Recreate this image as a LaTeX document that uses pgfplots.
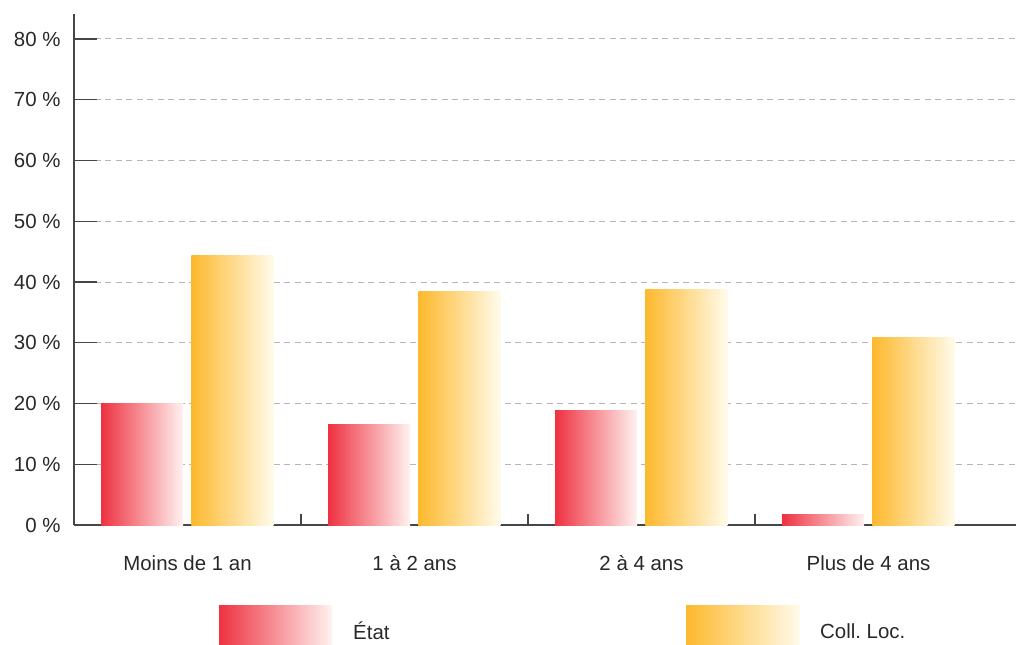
\documentclass[border=0pt]{standalone}
\usepackage{pgfplots}
\pgfplotsset{compat=1.18}
\usepackage{fontspec}
\setmainfont{Liberation Sans}
\frenchspacing
\definecolor{txt}{RGB}{40,40,40}
\definecolor{axc}{RGB}{70,70,70}
\definecolor{gridc}{RGB}{188,180,176}
\definecolor{redL}{RGB}{238,50,65}
\definecolor{redR}{RGB}{255,242,240}
\definecolor{yelL}{RGB}{253,185,45}
\definecolor{yelR}{RGB}{255,251,235}
\pgfplotsset{
  etat/.style={bar shift=-0.2, draw=none, left color=redL, right color=redR},
  coll/.style={bar shift=0.198, draw=none, left color=yelL, right color=yelR},
}
\begin{document}
\begin{tikzpicture}
\useasboundingbox (-74bp,-120bp) rectangle (942bp,525bp);
\begin{axis}[
  at={(0,0)}, anchor=south west,
  x=227bp, y=6.075bp,
  xmin=-0.5, xmax=3.65, ymin=0, ymax=84.1,
  axis x line=bottom, axis y line=left,
  axis line style={draw=axc, line width=1.6bp, -},
  ybar, bar width=0.361,
  ytick={0,10,...,80},
  yticklabels={0 \%,10 \%,20 \%,30 \%,40 \%,50 \%,60 \%,70 \%,80 \%},
  ytick align=inside,
  ytick style={draw=axc, line width=1.3bp, /pgfplots/major tick length=23bp},
  ymajorgrids,
  major grid style={draw=gridc, line width=1bp, dash pattern=on 6bp off 4.5bp},
  xtick={0.5,1.5,2.5}, xticklabels={},
  xtick align=inside,
  xtick style={draw=axc, line width=1.3bp, /pgfplots/major tick length=11bp},
  extra x ticks={0,1,2,3},
  extra x tick labels={Moins de 1 an,1 à 2 ans,2 à 4 ans,Plus de 4 ans},
  extra x tick style={grid=none, xtick style={draw=none, /pgfplots/major tick length=0pt}, xticklabel style={yshift=-27bp}},
  tick label style={font=\fontsize{20.5}{24}\selectfont, text=txt},
  yticklabel style={xshift=-10bp},
  clip=false,
]
% État
\addplot[etat] coordinates {(0,20.0)};
\addplot[etat] coordinates {(1,16.6)};
\addplot[etat] coordinates {(2,18.8)};
\addplot[etat] coordinates {(3,1.8)};
% Coll. Loc.
\addplot[coll] coordinates {(0,44.3)};
\addplot[coll] coordinates {(1,38.5)};
\addplot[coll] coordinates {(2,38.7)};
\addplot[coll] coordinates {(3,30.8)};
\end{axis}
\shade[left color=redL, right color=redR] (145bp,-80bp) rectangle (258bp,-121bp);
\node[anchor=west, inner sep=0pt, text=txt, font=\fontsize{20.5}{24}\selectfont] at (279bp,-106bp) {État};
\shade[left color=yelL, right color=yelR] (612bp,-80bp) rectangle (726bp,-121bp);
\node[anchor=west, inner sep=0pt, text=txt, font=\fontsize{20.5}{24}\selectfont] at (746bp,-106bp) {Coll. Loc.};
\end{tikzpicture}
\end{document}
